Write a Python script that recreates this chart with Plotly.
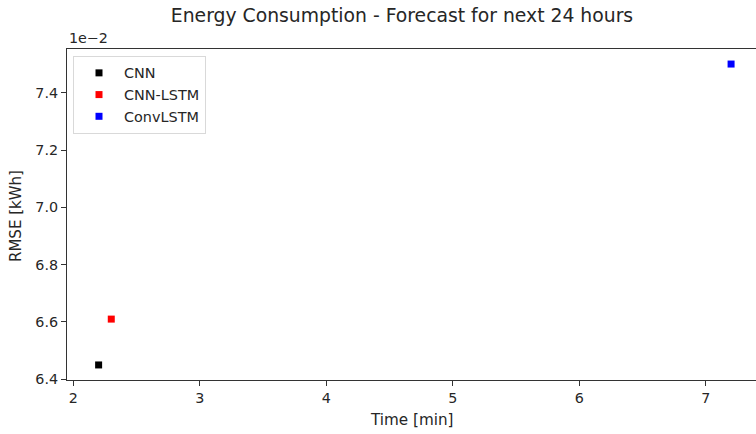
import plotly.graph_objects as go

# Training time vs. forecast error for each model
models = ["CNN", "CNN-LSTM", "ConvLSTM"]
time_min = [2.2, 2.3, 7.2]
rmse_kwh = [0.0645, 0.0661, 0.0750]
colors = ["#000000", "#ff0000", "#0000ff"]

x_ticks = [2, 3, 4, 5, 6, 7]
y_ticks = [6.4, 6.6, 6.8, 7.0, 7.2, 7.4]
y_scale = 1e-2  # values shown in units of 1e-2

FONT = "DejaVu Sans"
TXT = "#262626"
W, H = 756, 434
L, R, T, B = 67, 0, 49, 54

fig = go.Figure()
for name, t, e, c in zip(models, time_min, rmse_kwh, colors):
    fig.add_trace(go.Scatter(
        x=[t], y=[e / y_scale], mode="markers", name=name,
        marker=dict(symbol="square", size=7, color=c, line=dict(width=0)),
    ))

axis_common = dict(
    showgrid=False, zeroline=False, showline=True, linecolor="#333333",
    linewidth=1.2, ticks="outside", ticklen=5, tickwidth=1, tickcolor="#333333",
    tickfont=dict(family=FONT, size=14.3, color=TXT),
)

fig.update_layout(
    width=W, height=H,
    margin=dict(l=L, r=R, t=T, b=B, pad=0),
    paper_bgcolor="white", plot_bgcolor="white",
    font=dict(family=FONT, size=14, color=TXT),
    title=dict(
        text="Energy Consumption - Forecast for next 24 hours",
        x=402 / W, xref="container", xanchor="center",
        y=1 - 15 / H, yref="container", yanchor="middle",
        font=dict(family=FONT, size=18.8, color=TXT),
    ),
    xaxis=dict(range=[1.95, 7.397], tickvals=x_ticks,
               ticktext=[str(v) for v in x_ticks], mirror=True, **axis_common),
    yaxis=dict(range=[6.3975, 7.5525], tickvals=y_ticks,
               ticktext=[f"{v:.1f}" for v in y_ticks], mirror=False, **axis_common),
    legend=dict(
        x=6 / (W - L - R), y=(380 - 56) / (H - T - B),
        xanchor="left", yanchor="top",
        bgcolor="rgba(255,255,255,0.8)", bordercolor="#d9d9d9", borderwidth=1,
        font=dict(family=FONT, size=14.4, color=TXT),
        itemwidth=40,
        entrywidth=140, entrywidthmode="pixels",
    ),
    showlegend=True,
)

fig.add_annotation(text="Time [min]", xref="paper", yref="paper",
                   x=0.5, y=-(420 - 380) / (H - T - B), xanchor="center", yanchor="middle",
                   showarrow=False, font=dict(family=FONT, size=15.2, color=TXT))
fig.add_annotation(text="RMSE [kWh]", xref="paper", yref="paper",
                   x=-(L - 16) / (W - L - R), y=(380 - 216) / (H - T - B),
                   xanchor="center", yanchor="middle", textangle=-90,
                   showarrow=False, font=dict(family=FONT, size=15.0, color=TXT))
fig.add_annotation(text="1e\u22122", xref="paper", yref="paper",
                   x=0, y=1, xanchor="left", yanchor="bottom", yshift=1,
                   showarrow=False, font=dict(family=FONT, size=14.3, color=TXT))

fig.write_html("out.html")
